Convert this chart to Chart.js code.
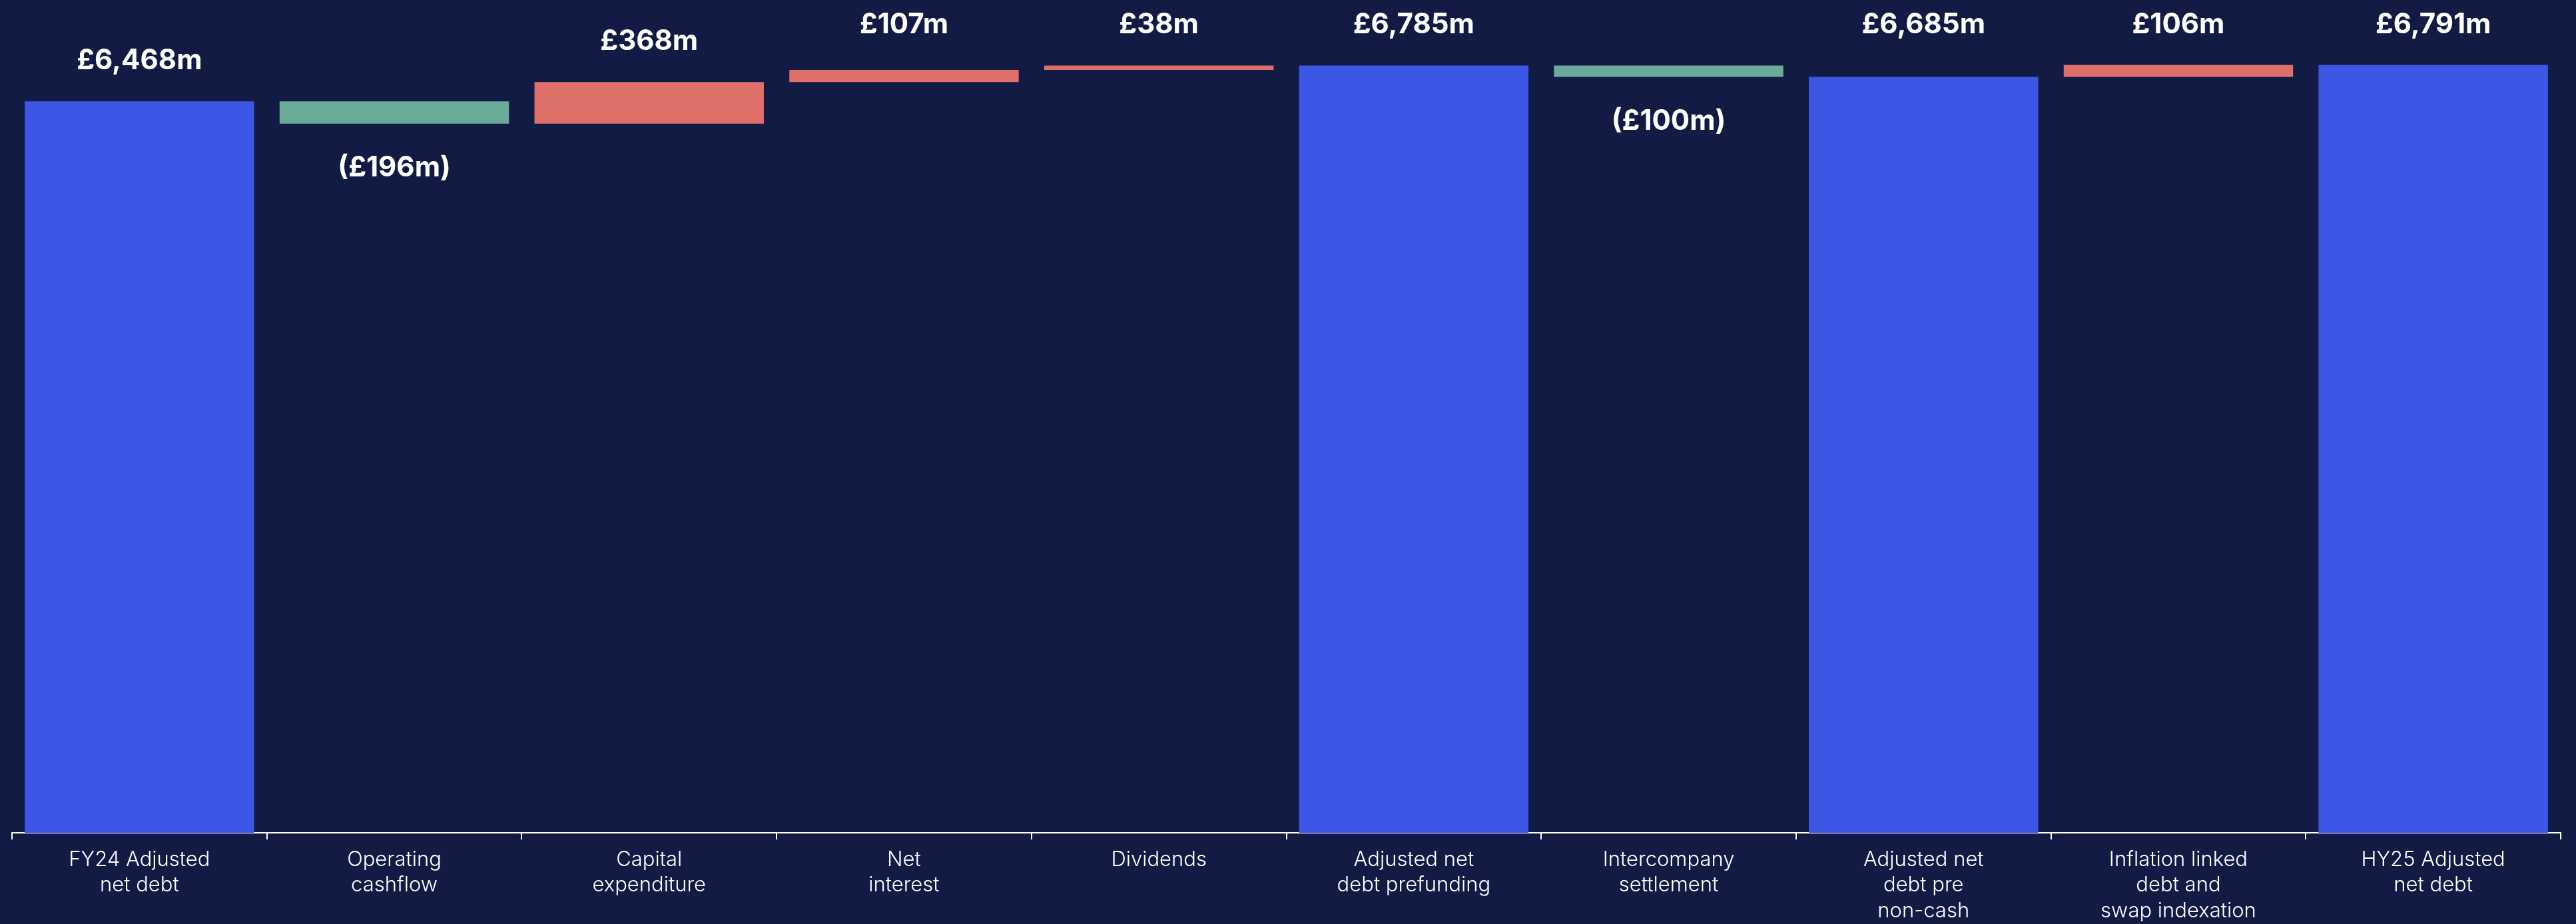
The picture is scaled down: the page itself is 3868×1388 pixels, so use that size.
<!DOCTYPE html>
<html>
<head>
<meta charset="utf-8">
<script src="https://cdn.jsdelivr.net/npm/chart.js@4"></script>
<style>
  html, body { margin: 0; padding: 0; background: #121b43; }
  canvas { display: block; }
</style>
</head>
<body>
<canvas id="bridge" width="3868" height="1388"></canvas>
<script>
const categories = [
  ['FY24 Adjusted', 'net debt'],
  ['Operating', 'cashflow'],
  ['Capital', 'expenditure'],
  ['Net', 'interest'],
  ['Dividends'],
  ['Adjusted net', 'debt prefunding'],
  ['Intercompany', 'settlement'],
  ['Adjusted net', 'debt pre', 'non-cash'],
  ['Inflation linked', 'debt and', 'swap indexation'],
  ['HY25 Adjusted', 'net debt']
];
const amounts = [6468, -196, 368, 107, 38, 6785, -100, 6685, 106, 6791];
const isTotal = [true, false, false, false, false, true, false, true, false, true];

const BLUE = '#3c57e6';
const GREEN = '#69aa99';
const RED = '#df6f69';

// turn the amounts into floating [start, end] bars
let running = 0;
const ranges = amounts.map((v, i) => {
  if (isTotal[i]) {
    running = v;
    return [0, v];
  }
  const start = running;
  running += v;
  return [start, running];
});
const colors = amounts.map((v, i) => isTotal[i] ? BLUE : (v < 0 ? GREEN : RED));

function fmt(v) {
  const s = '£' + Math.abs(v).toLocaleString('en-GB') + 'm';
  return v < 0 ? '(' + s + ')' : s;
}

const valueLabels = {
  id: 'valueLabels',
  afterDatasetsDraw(chart) {
    const ctx = chart.ctx;
    const yScale = chart.scales.y;
    const meta = chart.getDatasetMeta(0);
    ctx.save();
    ctx.fillStyle = '#ffffff';
    ctx.font = '700 42px Inter, "Open Sans", sans-serif';
    ctx.textAlign = 'center';
    ctx.textBaseline = 'middle';
    meta.data.forEach((bar, i) => {
      const r = ranges[i];
      let y;
      if (amounts[i] < 0) {
        y = yScale.getPixelForValue(Math.min(r[0], r[1])) + 67;
      } else {
        y = yScale.getPixelForValue(Math.max(r[0], r[1])) - 61;
        if (y < 60) y = 37;
      }
      ctx.fillText(fmt(amounts[i]), bar.x, y);
    });
    ctx.restore();
  }
};

new Chart(document.getElementById('bridge'), {
  type: 'bar',
  data: {
    labels: categories,
    datasets: [{
      data: ranges,
      backgroundColor: colors,
      borderWidth: 0,
      barPercentage: 0.9,
      categoryPercentage: 1.0
    }]
  },
  options: {
    responsive: false,
    animation: false,
    devicePixelRatio: 1,
    layout: { padding: { top: 62, left: 18, right: 23, bottom: 0 } },
    plugins: {
      legend: { display: false },
      tooltip: { enabled: false }
    },
    scales: {
      y: {
        display: false,
        min: 0,
        max: 7000
      },
      x: {
        afterFit(axis) { axis.height = 137; },
        border: { display: true, color: '#ffffff', width: 2 },
        grid: {
          display: true,
          drawOnChartArea: false,
          drawTicks: true,
          tickLength: 10,
          color: '#ffffff',
          lineWidth: 2
        },
        ticks: {
          color: '#ffffff',
          padding: 11,
          autoSkip: false,
          maxRotation: 0,
          font: { family: 'Inter, "Open Sans", sans-serif', size: 31, weight: '300', lineHeight: 1.25 }
        }
      }
    }
  },
  plugins: [valueLabels]
});
</script>
</body>
</html>
